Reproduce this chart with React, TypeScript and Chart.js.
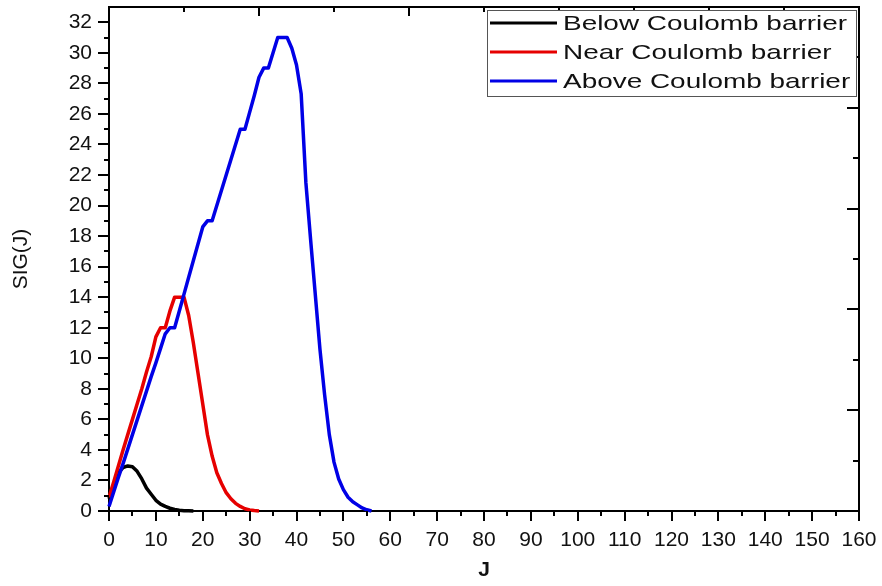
import React, { useEffect, useRef } from 'react';
import { Chart, registerables } from 'chart.js';

Chart.register(...registerables);

// ---- axis ranges & tick labels ----
const xTickValues = [0, 10, 20, 30, 40, 50, 60, 70, 80, 90, 100, 110, 120, 130, 140, 150, 160];
const yTickValues = [0, 2, 4, 6, 8, 10, 12, 14, 16, 18, 20, 22, 24, 26, 28, 30, 32];
const X_MIN = 0;
const X_MAX = 160;
const Y_MIN = 0;
const Y_MAX = 33;
const xMinorStep = 5;
const yMinorStep = 1;

// ---- series ----
const seriesLabels = ['Below Coulomb barrier', 'Near Coulomb barrier', 'Above Coulomb barrier'];
const seriesColors = ['#000000', '#e60000', '#0000e6'];

const belowJ = [0, 1, 2, 3, 4, 5, 6, 7, 8, 9, 10, 11, 12, 13, 14, 15, 16, 17, 18];
const belowSig = [0.8, 1.7, 2.5, 2.85, 2.95, 2.9, 2.6, 2.1, 1.5, 1.1, 0.7, 0.45, 0.3, 0.18, 0.1, 0.05, 0.02, 0.01, 0];

const nearJ = [0, 1, 2, 3, 4, 5, 6, 7, 8, 9, 10, 11, 12, 13, 14, 15, 16, 17, 18, 19, 20, 21, 22, 23, 24, 25, 26, 27, 28, 29, 30, 31, 32];
const nearSig = [0.9, 1.9, 2.95, 4.0, 5.0, 6.0, 7.0, 8.0, 9.1, 10.1, 11.4, 12, 12, 13.1, 14, 14, 14, 12.8, 11.0, 9.0, 7.0, 5.0, 3.6, 2.5, 1.8, 1.2, 0.8, 0.5, 0.3, 0.15, 0.07, 0.03, 0];

const aboveJ = [0, 1, 2, 3, 4, 5, 6, 7, 8, 9, 10, 11, 12, 13, 14, 15, 16, 17, 18, 19, 20, 21, 22, 23, 24, 25, 26, 27, 28, 29, 30, 31, 32, 33, 34, 35, 36, 37, 38, 39, 40, 41, 42, 43, 44, 45, 46, 47, 48, 49, 50, 51, 52, 53, 54, 55, 56];
const aboveSig = [0.3, 1.25, 2.2, 3.1, 4.05, 5.0, 5.95, 6.9, 7.85, 8.8, 9.7, 10.65, 11.6, 12, 12, 13.1, 14.2, 15.3, 16.4, 17.5, 18.6, 19, 19, 20, 21, 22, 23, 24, 25, 25, 26.1, 27.2, 28.4, 29, 29, 30, 31, 31, 31, 30.3, 29.2, 27.3, 21.5, 17.8, 14.2, 10.6, 7.6, 5.0, 3.2, 2.1, 1.4, 0.9, 0.6, 0.4, 0.2, 0.08, 0];

const FONT = "'Liberation Sans', Arial, sans-serif";

const toPoints = (xs: number[], ys: number[]) => xs.map((x, i) => ({ x, y: ys[i] }));

const frameTicksPlugin = {
  id: 'frameTicks',
  afterDraw(chart: any) {
    const { ctx, chartArea: a, scales } = chart;
    ctx.save();
    ctx.strokeStyle = '#000';
    ctx.lineWidth = 2;
    ctx.lineCap = 'butt';
    // top and right frame
    ctx.beginPath();
    ctx.moveTo(a.left - 1, a.top);
    ctx.lineTo(a.right, a.top);
    ctx.lineTo(a.right, a.bottom + 1);
    ctx.stroke();

    ctx.beginPath();
    // bottom ticks (outward)
    for (let v = X_MIN; v <= X_MAX + 1e-9; v += xMinorStep) {
      const px = Math.round(scales.x.getPixelForValue(v));
      const len = v % 10 === 0 ? 10 : 5;
      ctx.moveTo(px, a.bottom);
      ctx.lineTo(px, a.bottom + len);
    }
    // left ticks (outward)
    for (let v = Y_MIN; v <= 32 + 1e-9; v += yMinorStep) {
      const py = Math.round(scales.y.getPixelForValue(v));
      const len = v % 2 === 0 ? 11 : 5;
      ctx.moveTo(a.left, py);
      ctx.lineTo(a.left - len, py);
    }
    // top ticks (inward) from secondary scale
    for (let v = 0; v <= 10; v += 1) {
      const px = Math.round(scales.x2.getPixelForValue(v));
      const len = v % 2 === 0 ? 9 : 5;
      ctx.moveTo(px, a.top);
      ctx.lineTo(px, a.top + len);
    }
    // right ticks (inward) from secondary scale
    for (let v = 0; v <= 10; v += 1) {
      const py = Math.round(scales.y2.getPixelForValue(v));
      const len = v % 2 === 0 ? 12 : 6;
      ctx.moveTo(a.right, py);
      ctx.lineTo(a.right - len, py);
    }
    ctx.stroke();
    ctx.restore();
  },
};

const legendPlugin = {
  id: 'boxLegend',
  afterDraw(chart: any) {
    const { ctx, chartArea: a } = chart;
    const ds = chart.data.datasets;
    const boxRight = a.right - 3;
    const boxLeft = a.right - 372;
    const boxTop = a.top + 3;
    const rowH = 29;
    const boxBottom = boxTop + 86;
    ctx.save();
    ctx.fillStyle = '#ffffff';
    ctx.fillRect(boxLeft, boxTop, boxRight - boxLeft, boxBottom - boxTop);
    ctx.strokeStyle = '#555';
    ctx.lineWidth = 1;
    ctx.strokeRect(boxLeft + 0.5, boxTop + 0.5, boxRight - boxLeft, boxBottom - boxTop);
    ds.forEach((d: any, i: number) => {
      const cy = boxTop + 13 + i * rowH;
      ctx.strokeStyle = d.borderColor;
      ctx.lineWidth = 3;
      ctx.beginPath();
      ctx.moveTo(boxLeft + 3, cy);
      ctx.lineTo(boxLeft + 70, cy);
      ctx.stroke();
      ctx.save();
      ctx.translate(boxLeft + 76, cy);
      ctx.scale(1.33, 1);
      ctx.fillStyle = '#111';
      ctx.font = `21px ${FONT}`;
      ctx.textBaseline = 'middle';
      ctx.textAlign = 'left';
      ctx.fillText(d.label, 0, 1);
      ctx.restore();
    });
    ctx.restore();
  },
};

export default function App() {
  const ref = useRef<HTMLCanvasElement | null>(null);

  useEffect(() => {
    if (!ref.current) return;
    const chart = new Chart(ref.current, {
      type: 'line',
      data: {
        datasets: [
          { label: seriesLabels[0], data: toPoints(belowJ, belowSig), borderColor: seriesColors[0], order: 3 },
          { label: seriesLabels[1], data: toPoints(nearJ, nearSig), borderColor: seriesColors[1], order: 2 },
          { label: seriesLabels[2], data: toPoints(aboveJ, aboveSig), borderColor: seriesColors[2], order: 1 },
        ].map((d) => ({ ...d, borderWidth: 3.5, pointRadius: 0, tension: 0, fill: false, clip: 4, borderJoinStyle: 'round' as const })),
      },
      options: {
        responsive: false,
        animation: false,
        layout: { padding: { top: 7, right: 23, left: 0, bottom: 0 } },
        plugins: { legend: { display: false }, tooltip: { enabled: false } },
        scales: {
          x: {
            type: 'linear',
            position: 'bottom',
            min: X_MIN,
            max: X_MAX,
            afterFit: (s: any) => { s.height = 75; s.paddingLeft = 0; s.paddingRight = 0; },
            afterBuildTicks: (s: any) => { s.ticks = xTickValues.map((v) => ({ value: v })); },
            ticks: { stepSize: 10, padding: 17, color: '#111', font: { family: FONT, size: 21 }, maxRotation: 0, autoSkip: false, includeBounds: false },
            grid: { display: false, drawTicks: false },
            border: { display: true, color: '#000', width: 2 },
            title: { display: true, text: 'J', color: '#111', font: { family: FONT, size: 21, weight: 'bold' }, padding: { top: 0, bottom: 3 } },
          },
          y: {
            type: 'linear',
            position: 'left',
            min: Y_MIN,
            max: Y_MAX,
            afterFit: (s: any) => { s.width = 109; s.paddingTop = 0; s.paddingBottom = 0; },
            afterBuildTicks: (s: any) => { s.ticks = yTickValues.map((v) => ({ value: v })); },
            ticks: { stepSize: 2, padding: 17, color: '#111', font: { family: FONT, size: 21 }, autoSkip: false, includeBounds: false },
            grid: { display: false, drawTicks: false },
            border: { display: true, color: '#000', width: 2 },
            title: { display: true, text: 'SIG(J)', color: '#111', font: { family: FONT, size: 21 }, padding: { top: 9, bottom: 0 } },
          },
          x2: { type: 'linear', position: 'top', display: false, min: 0, max: 10 },
          y2: { type: 'linear', position: 'right', display: false, min: 0, max: 10 },
        },
      },
      plugins: [frameTicksPlugin, legendPlugin],
    } as any);
    return () => chart.destroy();
  }, []);

  return (
    <div style={{ position: 'absolute', left: 0, top: 0, width: 882, height: 586, background: '#fff' }}>
      <canvas ref={ref} width={882} height={586} style={{ display: 'block' }} />
    </div>
  );
}
